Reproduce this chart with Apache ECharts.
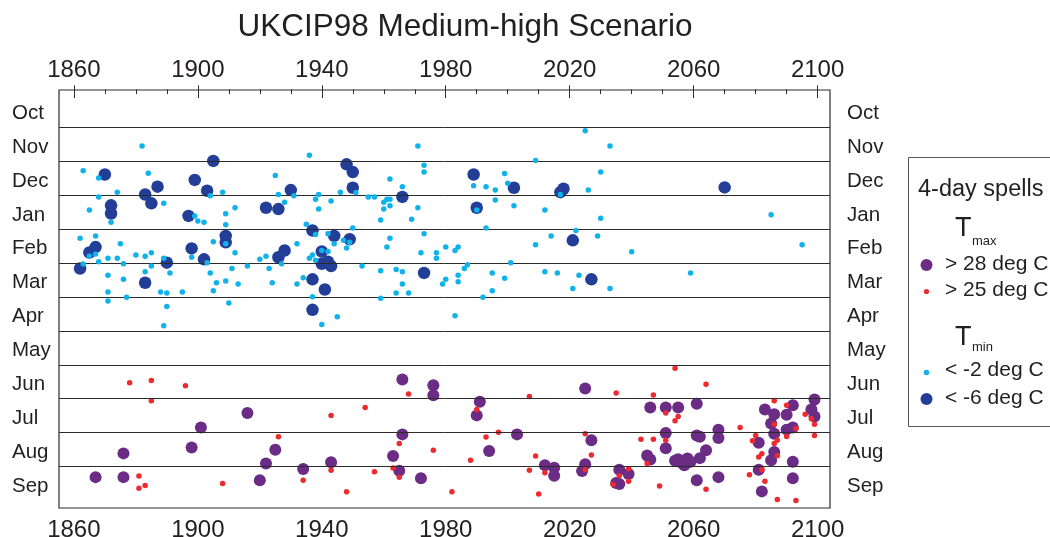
<!DOCTYPE html>
<html>
<head>
<meta charset="utf-8">
<script src="https://cdn.jsdelivr.net/npm/echarts@6/dist/echarts.min.js"></script>
<style>
  html, body { margin: 0; padding: 0; background: #ffffff; }
  #chart { width: 1050px; height: 537px; }
</style>
</head>
<body>
<div id="chart"></div>
<script>
// Season months, top to bottom (value 0 = start of October)
const MONTHS = ['Oct', 'Nov', 'Dec', 'Jan', 'Feb', 'Mar', 'Apr', 'May', 'Jun', 'Jul', 'Aug', 'Sep'];
const MONTH_BOUNDARIES = [1, 2, 3, 4, 5, 6, 7, 8, 9, 10, 11];

// Year ticks
const YEAR_LABELS = [1860, 1900, 1940, 1980, 2020, 2060, 2100];
const YEAR_TICKS = [1860, 1870, 1880, 1890, 1900, 1910, 1920, 1930, 1940, 1950, 1960, 1970, 1980,
  1990, 2000, 2010, 2020, 2030, 2040, 2050, 2060, 2070, 2080, 2090, 2100];

// [year, position in season (months since 1 Oct)]
// Tmax > 28 deg C
const TMAX_28 = [
  [1867, 11.31], [1876, 11.31], [1876, 10.61], [1898, 10.44], [1901, 9.85], [1916, 9.42],
  [1925, 10.50], [1922, 10.91], [1920, 11.40], [1934, 11.07], [1943, 10.87],
  [1966, 8.43], [1976, 8.60], [1976, 8.90], [1991, 9.09], [1990, 9.49], [1966, 10.05],
  [1963, 10.69], [1965, 11.12], [1972, 11.34], [1994, 10.54], [2003, 10.05], [2025, 8.70],
  [2027, 10.22], [2025, 10.93], [2024, 11.13], [2012, 10.96], [2015, 11.03], [2015, 11.27],
  [2036, 11.09], [2039, 11.22], [2035, 11.48], [2036, 11.51],
  [2046, 9.26], [2051, 9.26], [2055, 9.26], [2061, 9.15], [2051, 10.01], [2061, 10.08],
  [2062, 10.12], [2068, 9.91], [2068, 10.16], [2051, 10.46], [2064, 10.52], [2045, 10.67],
  [2046, 10.79], [2054, 10.83], [2055, 10.78], [2056, 10.88], [2057, 10.96], [2058, 10.76],
  [2059, 10.86], [2062, 10.75], [2061, 11.40], [2068, 11.31],
  [2099, 9.02], [2092, 9.19], [2083, 9.32], [2098, 9.32], [2086, 9.46], [2090, 9.47],
  [2099, 9.52], [2085, 9.73], [2090, 9.91], [2092, 9.85], [2086, 10.03], [2081, 10.30],
  [2086, 10.57], [2085, 10.81], [2092, 10.86], [2081, 11.09], [2092, 11.34], [2082, 11.73]
];

// Tmax > 25 deg C
const TMAX_25 = [
  [1878, 8.53], [1885, 8.46], [1885, 9.06], [1896, 8.62], [1881, 11.28], [1881, 11.64],
  [1883, 11.56], [1908, 11.50], [1926, 10.12], [1943, 9.49], [1943, 11.11], [1934, 11.40],
  [1948, 11.74],
  [1954, 9.26], [1957, 11.15], [1968, 8.86], [1965, 10.32], [1963, 11.04], [1965, 11.31],
  [1976, 10.52], [1982, 11.74], [1988, 10.81], [1990, 9.32], [1993, 10.13], [1997, 9.99],
  [2007, 8.93], [2007, 11.11], [2009, 10.69], [2010, 11.81], [2012, 11.18], [2025, 10.03],
  [2025, 11.09], [2027, 10.66], [2035, 8.83], [2034, 11.53],
  [2054, 8.10], [2064, 8.57], [2047, 8.89], [2051, 9.42], [2055, 9.52], [2054, 9.65],
  [2043, 10.19], [2047, 10.19], [2051, 10.22], [2045, 10.91], [2039, 11.06], [2039, 11.43],
  [2049, 11.57], [2064, 11.67], [2036, 11.27],
  [2086, 9.06], [2090, 9.19], [2096, 9.46], [2098, 9.59], [2075, 9.85], [2086, 9.75],
  [2093, 9.88], [2099, 9.75], [2099, 10.08], [2080, 10.08], [2079, 10.24], [2090, 10.11],
  [2087, 10.22], [2086, 10.32], [2082, 10.62], [2081, 10.72], [2087, 10.68], [2082, 11.09],
  [2078, 11.24], [2083, 11.43], [2087, 11.97], [2093, 12.00]
];

// Tmin < -2 deg C
const TMIN_M2 = [
  [1882, 1.55], [1863, 2.28], [1868, 2.49], [1884, 2.35], [1868, 3.05], [1874, 2.91],
  [1865, 3.44], [1872, 3.80], [1889, 3.24], [1899, 3.61], [1900, 3.76], [1902, 3.80],
  [1904, 3.02], [1908, 2.91], [1909, 3.55], [1909, 3.87], [1912, 3.37], [1925, 2.42],
  [1926, 2.98], [1928, 3.21], [1931, 3.02], [1936, 1.82], [1939, 2.98], [1938, 3.12],
  [1939, 3.41], [1935, 3.86], [1938, 4.16], [1943, 3.17], [1946, 2.91], [1942, 4.14],
  [1944, 4.43], [1947, 4.33], [1948, 4.56], [1949, 4.39],
  [1862, 4.27], [1867, 4.20], [1865, 4.79], [1867, 4.73], [1863, 5.03], [1868, 4.96],
  [1871, 4.86], [1874, 4.86], [1875, 4.43], [1876, 5.02], [1880, 4.76], [1883, 4.80],
  [1885, 4.70], [1889, 4.86], [1885, 5.09], [1883, 5.26], [1891, 5.29], [1871, 5.36],
  [1876, 5.48], [1871, 5.85], [1871, 6.12], [1877, 6.01], [1888, 5.85], [1890, 5.88],
  [1895, 5.85], [1890, 6.28], [1889, 6.85], [1898, 4.83], [1903, 4.99], [1905, 4.37],
  [1909, 4.43], [1912, 4.70], [1904, 5.29], [1906, 5.58], [1905, 5.82], [1909, 5.53],
  [1911, 5.16], [1913, 5.62], [1910, 6.18], [1916, 5.09], [1920, 4.89], [1922, 4.80],
  [1923, 5.16], [1924, 5.58], [1927, 5.02], [1932, 4.43], [1932, 5.62], [1934, 5.43],
  [1936, 4.86], [1937, 4.76], [1938, 4.92], [1940, 4.63], [1942, 4.66], [1937, 5.99],
  [1940, 6.81], [1945, 6.58],
  [1971, 1.55], [2025, 1.10], [2033, 1.55], [2009, 1.98], [1973, 2.12], [1973, 2.32],
  [1999, 2.36], [2030, 2.32], [1962, 2.52], [1966, 2.75], [1951, 2.92], [1955, 3.05],
  [1957, 3.05], [1961, 3.12], [1962, 3.12], [1960, 3.21], [1962, 3.31], [1960, 3.41],
  [1971, 3.37], [1969, 3.71], [1959, 3.73], [1989, 2.72], [1993, 2.75], [1996, 2.85],
  [2000, 2.65], [1996, 3.14], [2002, 3.31], [1990, 3.44], [2012, 3.44], [2026, 2.85],
  [2017, 2.98], [2030, 3.68], [1950, 3.97], [1993, 3.97], [2022, 4.04], [1973, 4.14],
  [1962, 4.27], [2014, 4.20], [2029, 4.20], [1961, 4.53], [2009, 4.46], [1980, 4.53],
  [1984, 4.53], [1983, 4.63], [1972, 4.70], [1977, 4.70], [1977, 4.86], [2040, 4.67],
  [2001, 4.99], [1987, 5.05], [1986, 5.16], [1953, 5.09], [1959, 5.23], [1964, 5.19],
  [1966, 5.26], [1984, 5.36], [1995, 5.29], [2012, 5.26], [2016, 5.29], [2023, 5.36],
  [1999, 5.45], [1980, 5.48], [1979, 5.62], [1984, 5.55], [1966, 5.62], [1964, 5.88],
  [1968, 5.88], [1995, 5.82], [2021, 5.75], [2033, 5.75], [1959, 6.04], [1992, 6.01],
  [1983, 6.55],
  [2085, 3.58], [2095, 4.46], [2059, 5.29]
];

// Tmin < -6 deg C
const TMIN_M6 = [
  [1862, 5.16], [1865, 4.69], [1867, 4.53], [1870, 2.39], [1872, 3.30], [1872, 3.54],
  [1883, 2.98], [1883, 5.58], [1885, 3.24], [1887, 2.75], [1890, 4.99], [1897, 3.61],
  [1898, 4.57], [1899, 2.55], [1902, 4.89], [1903, 2.87], [1905, 1.99], [1909, 4.20],
  [1909, 4.39], [1922, 3.37], [1926, 3.41], [1926, 4.83], [1928, 4.63], [1930, 2.85],
  [1937, 4.04], [1937, 5.48], [1937, 6.38], [1940, 4.66], [1940, 5.02], [1941, 5.78],
  [1942, 4.96], [1943, 5.09], [1944, 4.20], [1948, 2.09], [1949, 4.30], [1950, 2.32],
  [1950, 2.78], [1966, 3.05], [1973, 5.29], [1989, 2.39], [1990, 3.37], [2002, 2.78],
  [2017, 2.91], [2018, 2.81], [2021, 4.33], [2027, 5.48], [2070, 2.77]
];

const FONT = '"Liberation Sans", Arial, Helvetica, sans-serif';
const TEXT_COLOR = '#231f20';
const FRAME_COLOR = '#2b2b2b';

const C_PURPLE = '#6a2c84';
const C_RED = '#ee2a2e';
const C_SKY = '#0fb2ea';
const C_NAVY = '#233e97';

const X_MIN = 1855.2, X_MAX = 2104;
const Y_MIN = -0.1, Y_MAX = 12.22;
// month names sit a touch below the middle of each band
const MONTH_LABEL_OFFSET = 0.58;

function yearAxis(position, values, tickLen, showLabels) {
  return {
    type: 'value', position: position, min: X_MIN, max: X_MAX,
    axisLine: { show: false },
    splitLine: { show: false },
    axisTick: { show: true, inside: true, length: tickLen, customValues: values,
      lineStyle: { color: FRAME_COLOR, width: 1 } },
    axisLabel: { show: showLabels, customValues: values,
      margin: position === 'bottom' ? 10 : 8,
      fontFamily: FONT, fontSize: 24, color: TEXT_COLOR,
      formatter: function (v) { return String(Math.round(v)); } }
  };
}

function monthAxis(position, margin) {
  return {
    type: 'value', position: position, inverse: true, min: Y_MIN, max: Y_MAX,
    axisLine: { show: false },
    splitLine: { show: false },
    axisTick: { show: false },
    axisLabel: {
      show: true,
      customValues: MONTHS.map(function (m, i) { return i + MONTH_LABEL_OFFSET; }),
      margin: margin, align: 'left',
      fontFamily: FONT, fontSize: 20.5, color: TEXT_COLOR,
      formatter: function (v) { return MONTHS[Math.floor(v)]; }
    }
  };
}

function legendText(x, y, text, size) {
  return { type: 'text', x: x, y: y, silent: true,
    style: { text: text, fontFamily: FONT, fontSize: size, fill: TEXT_COLOR,
      align: 'left', verticalAlign: 'middle' } };
}
function legendDot(cx, cy, r, color) {
  return { type: 'circle', silent: true, shape: { cx: cx, cy: cy, r: r }, style: { fill: color } };
}

const chart = echarts.init(document.getElementById('chart'), null, { renderer: 'canvas' });

chart.setOption({
  animation: false,
  backgroundColor: '#ffffff',
  title: {
    text: 'UKCIP98 Medium-high Scenario',
    left: 460, top: 6, textAlign: 'center',
    textStyle: { fontFamily: FONT, fontSize: 31.5, fontWeight: 'normal', color: TEXT_COLOR }
  },
  grid: {
    left: 59, right: 220, top: 90, bottom: 29,
    outerBoundsMode: 'none', containLabel: false,
    show: true, borderColor: FRAME_COLOR, borderWidth: 1.2, backgroundColor: 'transparent'
  },
  xAxis: [
    yearAxis('bottom', YEAR_TICKS, 4, false),
    yearAxis('bottom', YEAR_LABELS, 8, true),
    yearAxis('top', YEAR_TICKS, 4, false),
    yearAxis('top', YEAR_LABELS, 8, true)
  ],
  yAxis: [
    monthAxis('left', 47),
    monthAxis('right', 17)
  ],
  series: [
    {
      name: 'Tmax > 28 deg C', type: 'scatter', data: TMAX_28, symbolSize: 12,
      itemStyle: { color: C_PURPLE, opacity: 1 }, z: 2,
      markLine: {
        silent: true, symbol: ['none', 'none'], label: { show: false },
        lineStyle: { color: '#2b2b2b', width: 1, type: 'solid' },
        data: MONTH_BOUNDARIES.map(function (v) { return { yAxis: v }; })
      }
    },
    {
      name: 'Tmin < -6 deg C', type: 'scatter', data: TMIN_M6, symbolSize: 12.5,
      itemStyle: { color: C_NAVY, opacity: 1 }, z: 3
    },
    {
      name: 'Tmax > 25 deg C', type: 'scatter', data: TMAX_25, symbolSize: 5.5,
      itemStyle: { color: C_RED, opacity: 1 }, z: 4
    },
    {
      name: 'Tmin < -2 deg C', type: 'scatter', data: TMIN_M2, symbolSize: 5.5,
      itemStyle: { color: C_SKY, opacity: 1 }, z: 5
    }
  ],
  graphic: [
    { type: 'rect', silent: true, shape: { x: 908.5, y: 157.5, width: 200, height: 269 },
      style: { fill: '#ffffff', stroke: '#555555', lineWidth: 1 } },
    legendText(918, 190, '4-day spells', 23.5),
    legendText(955, 229, 'T', 27),
    legendText(972, 241, 'max', 13),
    legendDot(926.5, 265, 6, C_PURPLE),
    legendText(945, 264, '> 28 deg C', 21),
    legendDot(926.5, 291.5, 2.6, C_RED),
    legendText(945, 290, '> 25 deg C', 21),
    legendText(955, 338, 'T', 27),
    legendText(972, 347, 'min', 13),
    legendDot(926.5, 372.5, 2.8, C_SKY),
    legendText(945, 370, '< -2 deg C', 21),
    legendDot(926.5, 399, 6, C_NAVY),
    legendText(945, 398, '< -6 deg C', 21)
  ]
});
</script>
</body>
</html>
